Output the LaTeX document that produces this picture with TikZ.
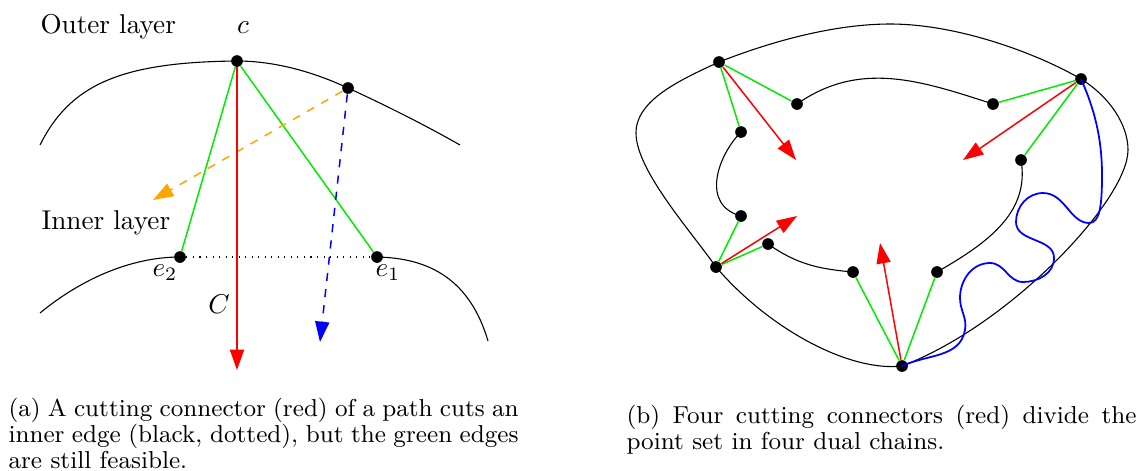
\documentclass[tikz,border=0pt]{standalone}
\usetikzlibrary{arrows.meta}
\definecolor{lgreen}{RGB}{0,235,0}
\definecolor{lorange}{RGB}{255,165,0}
\tikzset{
  dot/.style={circle,fill=black,inner sep=0pt,minimum size=4.3pt},
  feas/.style={lgreen,line width=0.55pt},
  tip/.style={-{Triangle[length=7.5pt,width=5.2pt]}},
  cutarrow/.style={red,line width=0.55pt,tip},
  lbl/.style={anchor=base west,inner sep=0pt},
  capt/.style={anchor=north west,inner sep=0pt,text width=187.5pt,align=justify,font=\fontsize{9}{9.56}\selectfont}
}
\begin{document}
\begin{tikzpicture}[x=0.3676pt,y=-0.3676pt]
\useasboundingbox (0,0) rectangle (1142,470);
% (a) left picture
\node[dot] (c) at (237,61) {};
\node[dot] (d) at (348,88) {};
\node[dot] (e2) at (180,257) {};
\node[dot] (e1) at (377,257) {};
\node[lbl] (outer) at (40,33) {Outer layer};
\node[lbl] (inner) at (41,229) {Inner layer};
\node[anchor=base] (lc) at (243,33) {$c$};
\node[anchor=base] (le2) at (165,276) {$e_2$};
\node[anchor=base] (le1) at (388,276) {$e_1$};
\node[anchor=base] (lC) at (219,313) {$C$};
\coordinate (cend) at (237,370);
\coordinate (oend) at (153,200);
\coordinate (bend) at (320,342);
\draw (40,145) .. controls (70,85) and (120,62) .. (c.center)
  .. controls (280,61) and (320,75) .. (d.center)
  .. controls (385,105) and (425,125) .. (460,145);
\draw (40,313) .. controls (80,280) and (130,257) .. (e2.center);
\draw (e1.center) .. controls (430,258) and (470,280) .. (488,341);
\draw[dotted] (e2) -- (e1);
\draw[feas] (c) -- (e2);
\draw[feas] (c) -- (e1);
\draw[lorange,dashed,line width=0.55pt,tip] (d) -- (oend);
\draw[blue,dashed,line width=0.55pt,tip] (d) -- (bend);
\draw[cutarrow] (c) -- (cend);
% (b) right picture
\node[dot] (tl) at (719,62) {};
\node[dot] (tr) at (1081,79) {};
\node[dot] (bl) at (716,267) {};
\node[dot] (bo) at (902,366) {};
\node[dot] (a1) at (797,104) {};
\node[dot] (a2) at (993,104) {};
\node[dot] (a3) at (1021,160) {};
\node[dot] (a4) at (937,272) {};
\node[dot] (a5) at (853,272) {};
\node[dot] (a6) at (768,244) {};
\node[dot] (a7) at (741,216) {};
\node[dot] (a8) at (741,132) {};
\coordinate (tlend) at (796,160);
\coordinate (trend) at (963,160);
\coordinate (blend) at (797,216);
\coordinate (boend) at (880,243);
\draw (tl.center) .. controls (780,38) and (840,24) .. (890,24)
  .. controls (960,24) and (1040,55) .. (tr.center)
  .. controls (1110,97) and (1128,125) .. (1128,150)
  .. controls (1128,200) and (1010,325) .. (bo.center)
  .. controls (850,372) and (770,330) .. (bl.center)
  .. controls (690,230) and (636,170) .. (636,133)
  .. controls (636,100) and (680,80) .. (tl.center);
\draw (a1.center) to[out=35,in=162] (a2.center);
\draw (a3.center) to[out=-80,in=30] (a4.center);
\draw (a6.center) to[out=-35,in=175] (a5.center);
\draw (a8.center) .. controls (718,155) and (700,205) .. (a7.center);
\draw[blue,line width=0.65pt] (tr.center) .. controls (1095,110) and (1102,140) .. (1102,175)
  .. controls (1102,205) and (1100,223) .. (1089,223)
  .. controls (1070,223) and (1065,193) .. (1043,193)
  to[out=180,in=90] (1016,222) to[out=-90,in=90] (1054,258)
  to[out=-90,in=0] (1023,282) to[out=180,in=0] (990,263)
  to[out=180,in=90] (960,298) to[out=-90,in=80] (965,330)
  to[out=-100,in=25] (bo.center);
\draw[feas] (tl) -- (a1);
\draw[feas] (tl) -- (a8);
\draw[feas] (tr) -- (a2);
\draw[feas] (tr) -- (a3);
\draw[feas] (bl) -- (a7);
\draw[feas] (bl) -- (a6);
\draw[feas] (bo) -- (a5);
\draw[feas] (bo) -- (a4);
\draw[cutarrow] (tl) -- (tlend);
\draw[cutarrow] (tr) -- (trend);
\draw[cutarrow] (bl) -- (blend);
\draw[cutarrow] (bo) -- (boend);
% captions
\node[capt] (capa) at (8,398) {(a) A cutting connector (red) of a path cuts an inner edge (black, dotted), but the green edges are still feasible.};
\node[capt] (capb) at (626,405) {(b) Four cutting connectors (red) divide the point set in four dual chains.};
\end{tikzpicture}
\end{document}
